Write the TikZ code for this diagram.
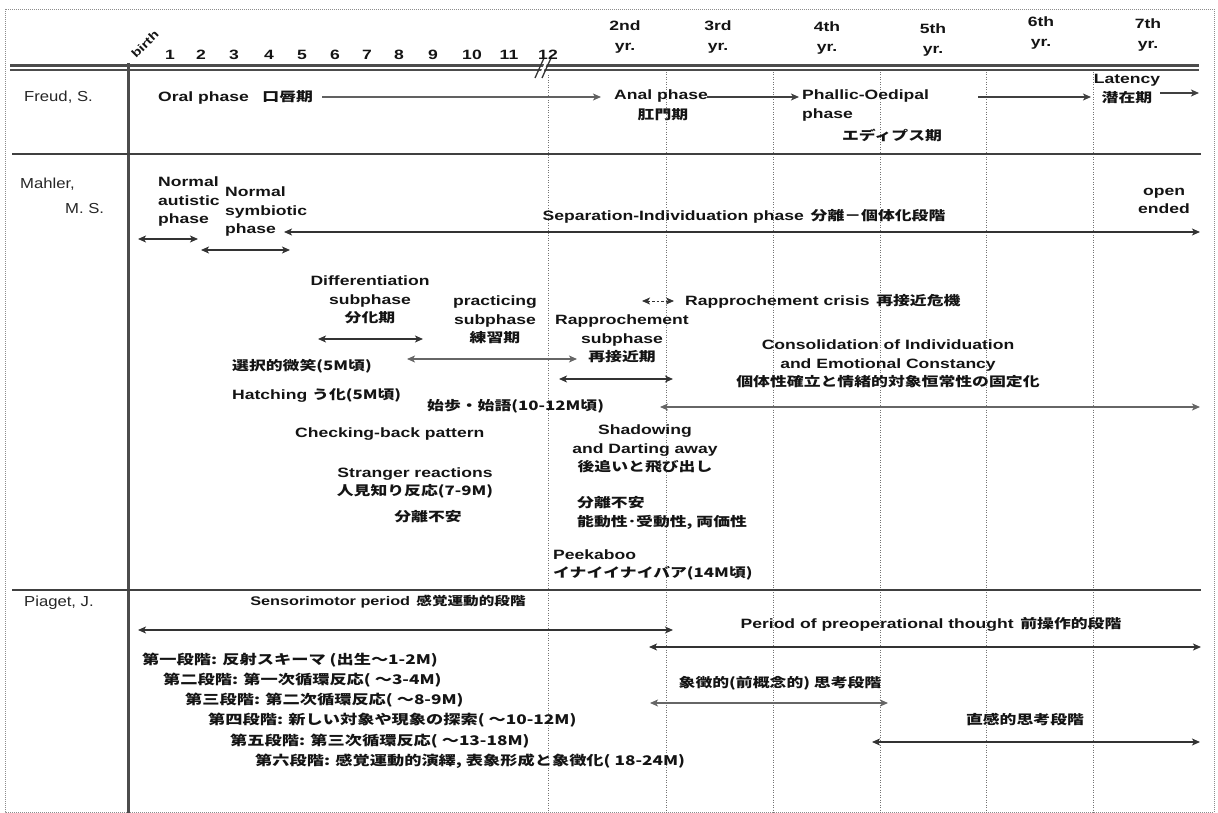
\documentclass[tikz,border=0pt]{standalone}
\usepackage{fontspec}
\setmainfont{Liberation Sans}[FakeStretch=1.3]
\newfontfamily\jpf{Noto Sans CJK JP}[FakeStretch=1.3,Scale=0.96]
\newfontfamily\namef{Liberation Sans}[FakeStretch=1.15]
\newcommand\J[1]{{\jpf #1}}
\usetikzlibrary{arrows.meta}
\begin{document}
\begin{tikzpicture}[x=1pt,y=-1pt,
  lbl/.style={font=\fontsize{13.5}{18.5}\selectfont\bfseries, inner sep=0pt, align=center, text=black!92},
  lblL/.style={lbl, anchor=west, align=left},
  stg/.style={font=\fontsize{13.8}{18}\selectfont\bfseries, inner sep=0pt, anchor=west, text=black!92},
  who/.style={font=\namef\fontsize{14.5}{19}\selectfont, inner sep=0pt, anchor=west, align=left, text=black!85},
  yr/.style={font=\fontsize{13.5}{20}\selectfont\bfseries, inner sep=0pt, align=center, text=black!92},
  mon/.style={font=\fontsize{13.5}{16}\selectfont\bfseries, inner sep=0pt, text=black!92},
  tip/.style={-{Stealth[length=8pt,width=7pt,inset=2pt]}},
  tl/.style={line width=1.3pt, draw=black!80, {Stealth[length=8pt,width=7pt,inset=2pt]}-{Stealth[length=8pt,width=7pt,inset=2pt]}},
  tlite/.style={tl, draw=black!60},
  one/.style={line width=1.3pt, draw=black!75, tip},
  onelite/.style={one, draw=black!62},
  grid/.style={draw=black!55, line width=0.8pt, dash pattern=on 1pt off 1.5pt},
  sepline/.style={draw=black!75, line width=1.2pt},
  ]
\useasboundingbox (0,0) rectangle (1218,813);
% outer border
\draw[black!45, line width=0.6pt, dash pattern=on 1pt off 1pt] (5,9) rectangle (1214,812);

% vertical grid lines
\foreach \gx/\gy in {548/75,666/72,773/72,880/72,986/72,1093/72}
  \draw[grid] (\gx,\gy) -- (\gx,813);

% header double line
\draw[black!70, line width=3pt] (10,65.5) -- (1199,65.5);
\draw[black!70, line width=2.4pt] (10,69.8) -- (1199,69.8);
% break mark
\fill[white] (538.5,77) -- (546.5,59) -- (549,59) -- (541,77) -- cycle;
\draw[black!80, line width=1.3pt] (535,78) -- (544,58);
\draw[black!80, line width=1.3pt] (542,78) -- (551,58);

% thick vertical line
\draw[black!70, line width=3pt] (128,63) -- (128,813);

% separators
\draw[sepline] (12,154) -- (1201,154);
\draw[sepline] (12,590) -- (1201,590);

% month labels
\node[mon, rotate=45] (birth) at (145,44) {\fontsize{11.5}{13}\selectfont birth};
\foreach \m/\mx in {1/170,2/201,3/234,4/269,5/302,6/335,7/367,8/399,9/433,10/472,11/509,12/548}
  \node[mon] (m\m) at (\mx,55) {\m};

% year labels
\node[yr] (y2) at (625,37) {2nd\\yr.};
\node[yr] (y3) at (718,37) {3rd\\yr.};
\node[yr] (y4) at (827,38) {4th\\yr.};
\node[yr] (y5) at (933,40) {5th\\yr.};
\node[yr] (y6) at (1041,33) {6th\\yr.};
\node[yr] (y7) at (1148,35) {7th\\yr.};

% ===== Freud =====
\node[who] (freud) at (24,97) {Freud, S.};
\node[lblL] (oral) at (158,97) {Oral phase\quad\J{口唇期}};
\node[lblL] (anal) at (614,96) {Anal phase};
\node[lbl] (analj) at (663,115) {\J{肛門期}};
\node[lblL] (phal) at (802,96) {Phallic-Oedipal};
\node[lblL] (phalb) at (802,115) {phase};
\node[lbl] (oedj) at (892,135) {\J{エディプス期}};
\node[lbl] (lat) at (1127,80) {Latency};
\node[lbl] (latj) at (1127,98) {\J{潜在期}};
\coordinate (f1) at (322,97);
\coordinate (f2) at (601,97);
\coordinate (f3) at (707,97);
\coordinate (f4) at (799,97);
\coordinate (f5) at (978,97);
\coordinate (f6) at (1091,97);
\coordinate (f7) at (1160,93);
\coordinate (f8) at (1199,93);
\draw[onelite] (f1) -- (f2);
\draw[one] (f3) -- (f4);
\draw[one] (f5) -- (f6);
\draw[one] (f7) -- (f8);

% ===== Mahler =====
\node[who] (mahler) at (20,184) {Mahler,};
\node[who] (ms) at (65,209) {M. S.};
\node[lblL] (aut) at (158,202) {Normal\\autistic\\phase};
\node[lblL] (sym) at (225,212) {Normal\\symbiotic\\phase};
\node[lbl] (sep) at (744,216) {Separation-Individuation phase\enspace\J{分離－個体化段階}};
\node[lbl] (open) at (1164,201) {open\\ended};
\coordinate (a1) at (138,239); \coordinate (a2) at (198,239);
\coordinate (b1) at (201,250); \coordinate (b2) at (290,250);
\coordinate (c1) at (284,232); \coordinate (c2) at (1200,232);
\draw[tl] (a1) -- (a2);
\draw[tl] (b1) -- (b2);
\draw[tl] (c1) -- (c2);

\node[lbl] (diff) at (370,300) {Differentiation\\subphase\\\J{分化期}};
\node[lbl] (prac) at (495,320) {practicing\\subphase\\\J{練習期}};
\node[lblL] (crisis) at (685,301) {Rapprochement crisis\enspace\J{再接近危機}};
\node[lbl] (rapp) at (622,339) {Rapprochement\\subphase\\\J{再接近期}};
\node[lbl] (cons) at (888,364) {Consolidation of Individuation\\and Emotional Constancy\\\J{個体性確立と情緒的対象恒常性の固定化}};
\coordinate (d1) at (318,339); \coordinate (d2) at (423,339);
\coordinate (p1) at (407,359); \coordinate (p2) at (577,359);
\coordinate (k1) at (642,301); \coordinate (k2) at (674,301);
\coordinate (r1) at (559,379); \coordinate (r2) at (673,379);
\coordinate (o1) at (660,407); \coordinate (o2) at (1200,407);
\draw[tl] (d1) -- (d2);
\draw[tlite] (p1) -- (p2);
\draw[tl, line width=1pt, dash pattern=on 2.5pt off 2pt] (k1) -- (k2);
\draw[tl] (r1) -- (r2);
\draw[tlite] (o1) -- (o2);

\node[lblL] (smile) at (232,366) {\J{選択的微笑(5M頃)}};
\node[lblL] (hatch) at (232,395) {Hatching \J{う化(5M頃)}};
\node[lblL] (walk) at (427,406) {\J{始歩・始語(10-12M頃)}};
\node[lblL] (check) at (295,434) {Checking-back pattern};
\node[lbl] (shadow) at (645,449) {Shadowing\\and Darting away\\\J{後追いと飛び出し}};
\node[lbl] (stranger) at (415,483) {Stranger reactions\\\J{人見知り反応(7-9M)}};
\node[lbl] (anx1) at (428,517) {\J{分離不安}};
\node[lblL] (anx2) at (577,513) {\J{分離不安}\\\J{能動性･受動性, 両価性}};
\node[lblL] (peek) at (553,565) {Peekaboo\\\J{イナイイナイバア(14M頃)}};

% ===== Piaget =====
\node[who] (piaget) at (24,603) {Piaget, J.};
\node[lbl, font=\fontsize{12.5}{16}\selectfont\bfseries] (senso) at (388,602) {Sensorimotor period\enspace\J{感覚運動的段階}};
\node[lbl] (preop) at (931,624) {Period of preoperational thought\enspace\J{前操作的段階}};
\node[lbl] (symb) at (780,683) {\J{象徴的(前概念的) 思考段階}};
\node[lbl] (intu) at (1025,720) {\J{直感的思考段階}};
\coordinate (s1) at (138,630); \coordinate (s2) at (673,630);
\coordinate (q1) at (649,647); \coordinate (q2) at (1201,647);
\coordinate (t1) at (650,703); \coordinate (t2) at (888,703);
\coordinate (u1) at (872,742); \coordinate (u2) at (1200,742);
\draw[tl] (s1) -- (s2);
\draw[tl] (q1) -- (q2);
\draw[tlite] (t1) -- (t2);
\draw[tl] (u1) -- (u2);

\node[stg] (st1) at (142,660) {\J{第一段階: 反射スキーマ (出生～1-2M)}};
\node[stg] (st2) at (163,680) {\J{第二段階: 第一次循環反応( ～3-4M)}};
\node[stg] (st3) at (185,700) {\J{第三段階: 第二次循環反応( ～8-9M)}};
\node[stg] (st4) at (208,720) {\J{第四段階: 新しい対象や現象の探索( ～10-12M)}};
\node[stg] (st5) at (230,741) {\J{第五段階: 第三次循環反応( ～13-18M)}};
\node[stg] (st6) at (255,761) {\J{第六段階: 感覚運動的演繹, 表象形成と象徴化( 18-24M)}};
\end{tikzpicture}
\end{document}
